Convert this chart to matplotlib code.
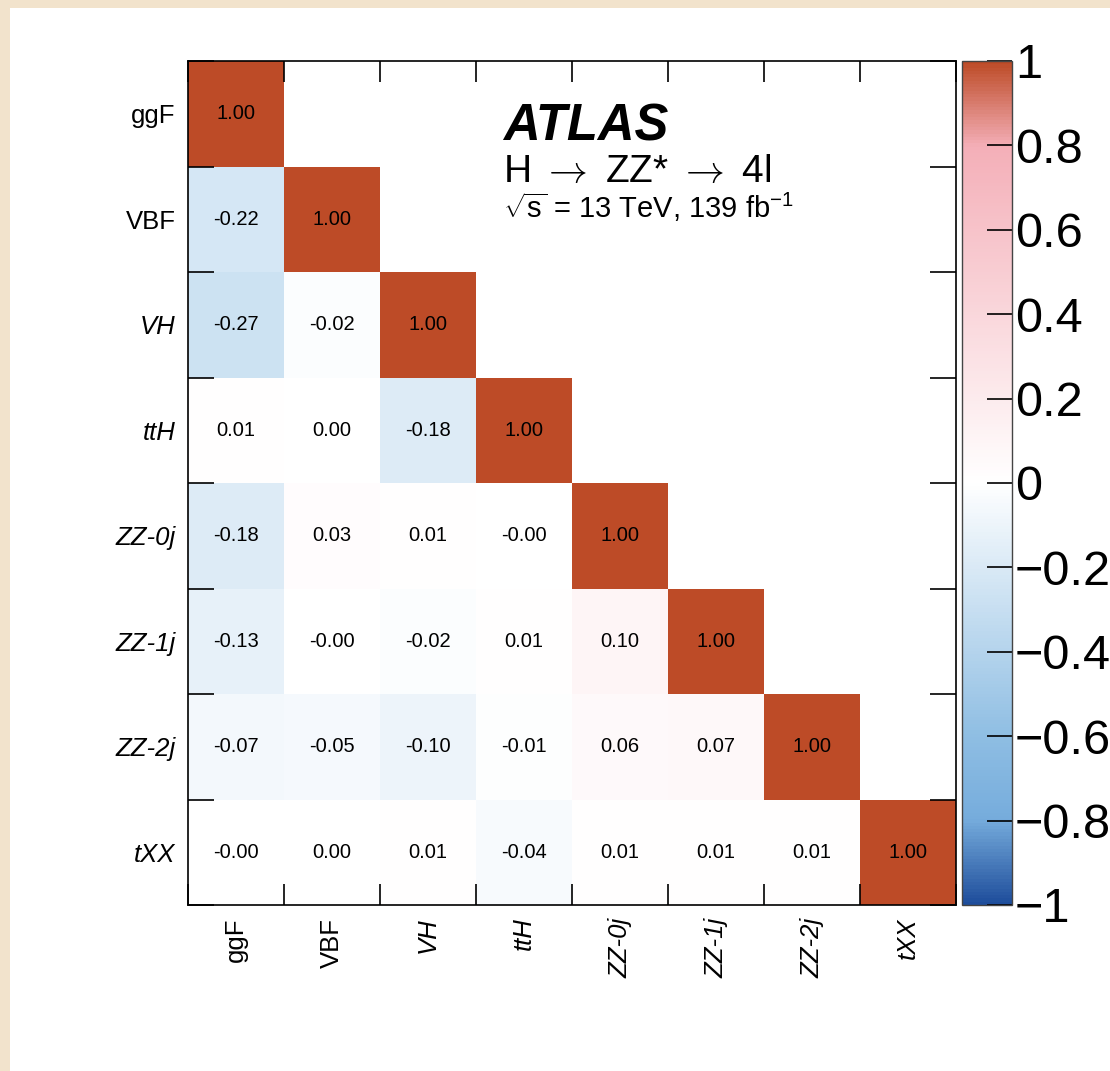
import matplotlib
matplotlib.use("Agg")
import matplotlib.pyplot as plt
import numpy as np
from matplotlib.colors import LinearSegmentedColormap
from matplotlib.patches import Rectangle

plt.rcParams["font.family"] = ["Liberation Sans", "DejaVu Sans"]
plt.rcParams["mathtext.fontset"] = "custom"
plt.rcParams["mathtext.rm"] = "Liberation Sans"
plt.rcParams["mathtext.it"] = "Liberation Sans:italic"

LABELS = ["ggF", "VBF", "VH", "ttH", "ZZ-0j", "ZZ-1j", "ZZ-2j", "tXX"]
ITALIC = [False, False, True, True, True, True, True, True]

# lower triangle of the correlation matrix, one row per label
ROWS = [
    [1.00],
    [-0.22, 1.00],
    [-0.27, -0.02, 1.00],
    [0.01, 0.00, -0.18, 1.00],
    [-0.18, 0.03, 0.01, -0.0, 1.00],
    [-0.13, -0.0, -0.02, 0.01, 0.10, 1.00],
    [-0.07, -0.05, -0.10, -0.01, 0.06, 0.07, 1.00],
    [-0.0, 0.00, 0.01, -0.04, 0.01, 0.01, 0.01, 1.00],
]

CBAR_TICKS = [-1, -0.8, -0.6, -0.4, -0.2, 0, 0.2, 0.4, 0.6, 0.8, 1]
CBAR_TICK_LABELS = ["\u22121", "\u22120.8", "\u22120.6", "\u22120.4", "\u22120.2",
                    "0", "0.2", "0.4", "0.6", "0.8", "1"]

n = len(LABELS)
matrix = np.full((n, n), np.nan)
for i, row in enumerate(ROWS):
    matrix[i, :len(row)] = row
masked = np.ma.masked_invalid(matrix)

cmap = LinearSegmentedColormap.from_list(
    "atlas_corr",
    [(0.0, "#1e4d9b"), (0.1, "#76acdc"), (0.2, "#8fbee3"), (0.5, "#ffffff"),
     (0.9, "#f4afb8"), (1.0, "#bd4b27")],
)

fig = plt.figure(figsize=(11.10, 10.71), dpi=100, facecolor="#f2e3cc")
fig.patches.append(Rectangle((10 / 1110, 0), 1, 1 - 8 / 1071, transform=fig.transFigure,
                             facecolor="white", edgecolor="none", zorder=-10))

ax = fig.add_axes([188 / 1110, 1 - 905 / 1071, 768 / 1110, 844 / 1071])
mesh = ax.pcolormesh(np.arange(n + 1), np.arange(n + 1), masked, cmap=cmap,
                     vmin=-1, vmax=1)
ax.set_xlim(0, n)
ax.set_ylim(n, 0)

for i, row in enumerate(ROWS):
    for j, value in enumerate(row):
        ax.text(j + 0.5, i + 0.5, f"{value:.2f}", ha="center", va="center",
                fontsize=14.5, color="black")

edges = np.arange(n + 1)
centers = np.arange(n) + 0.5
ax.set_xticks(edges)
ax.set_yticks(edges)
ax.set_xticklabels([])
ax.set_yticklabels([])
ax.tick_params(axis="x", which="major", direction="in", length=15, width=1.2,
               top=True, bottom=True)
ax.tick_params(axis="y", which="major", direction="in", length=19, width=1.2,
               left=True, right=True)

ax.set_xticks(centers, minor=True)
ax.set_yticks(centers, minor=True)
ax.set_xticklabels(LABELS, minor=True, rotation=90, fontsize=18.5)
ax.set_yticklabels(LABELS, minor=True, fontsize=18.5)
ax.tick_params(axis="x", which="minor", length=0, pad=9)
ax.tick_params(axis="y", which="minor", length=0, pad=9)
for lab, italic in zip(ax.get_xticklabels(minor=True), ITALIC):
    lab.set_style("italic" if italic else "normal")
for lab, italic in zip(ax.get_yticklabels(minor=True), ITALIC):
    lab.set_style("italic" if italic else "normal")

for spine in ax.spines.values():
    spine.set_linewidth(1.2)

ax.text(0.41, 0.906, "ATLAS", transform=ax.transAxes, fontsize=36.5,
        fontweight="bold", style="italic", va="baseline", ha="left")
ax.text(0.41, 0.857, r"H $\rightarrow$ ZZ* $\rightarrow$ 4l", transform=ax.transAxes,
        fontsize=28, va="baseline", ha="left", math_fontfamily="cm")
ax.text(0.41, 0.814, r"$\sqrt{\mathrm{s}}$ = 13 TeV, 139 fb$^{-1}$",
        transform=ax.transAxes, fontsize=21, va="baseline", ha="left")

cax = fig.add_axes([962 / 1110, 1 - 905 / 1071, 50 / 1110, 844 / 1071])
cbar = fig.colorbar(mesh, cax=cax)
cbar.set_ticks(CBAR_TICKS)
cbar.set_ticklabels(CBAR_TICK_LABELS)
cbar.ax.tick_params(direction="in", length=18, width=1.2, labelsize=35, pad=2)
cbar.outline.set_edgecolor("#444444")
cbar.outline.set_linewidth(1.0)

fig.savefig("out.png", dpi=100, facecolor=fig.get_facecolor())
